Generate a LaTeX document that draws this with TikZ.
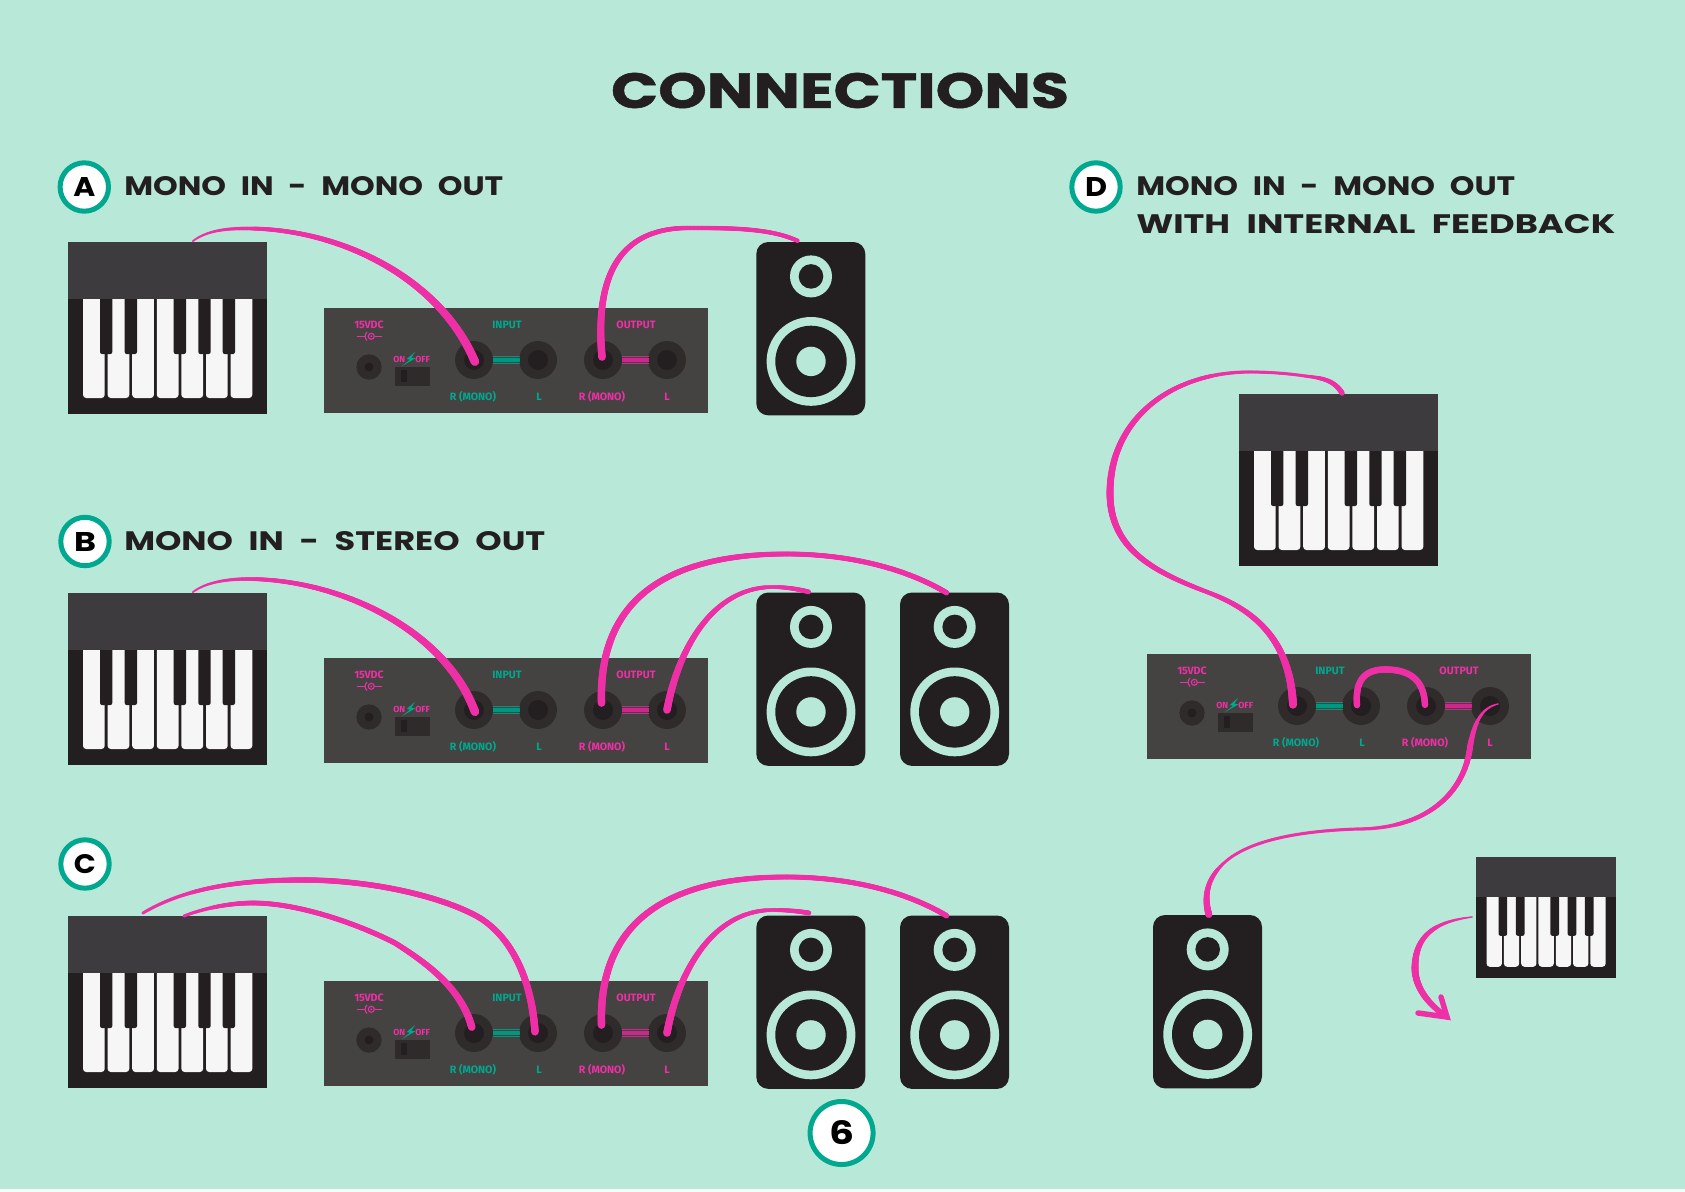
\documentclass[tikz,border=0pt]{standalone}
\usepackage{graphicx}
\usepackage{fontspec}
\setmainfont{Fira Sans}
\newfontfamily\headfont[FakeStretch=1.35,WordSpace=2.2]{Poppins}
\newfontfamily\titlefont[FakeStretch=1.35,BoldFeatures={FakeBold=1.2}]{Poppins}
\usetikzlibrary{decorations.markings}
\definecolor{bgc}{HTML}{B8E8D8}
\definecolor{panelc}{HTML}{454341}
\definecolor{jackout}{HTML}{2F2B2B}
\definecolor{darkc}{HTML}{231F20}
\definecolor{kbtop}{HTML}{3E3B3F}
\definecolor{keyc}{HTML}{F6F6F6}
\definecolor{cablec}{HTML}{EE2FA6}
\definecolor{tealc}{HTML}{00A88F}
\newcommand{\hdtxt}[3]{\resizebox{\dimexpr#1pt*3/4\relax}{\dimexpr#2pt*3/4\relax}{\headfont\bfseries #3}}
\tikzset{
  x=0.75pt,y=-0.75pt,
  taper/.style 2 args={decoration={markings,
    mark=between positions 0 and 1 step 0.6pt with {
      \pgfmathsetmacro\rr{(#1+(#2-#1)*\pgfkeysvalueof{/pgf/decoration/mark info/distance from start}/\pgfdecoratedpathlength)*0.41}
      \fill[cablec] (0,0) circle [radius=\rr pt];}},decorate},
  lblteal/.style={text=tealc,font=\bfseries\fontsize{8}{9}\selectfont,inner sep=0pt},
  lblpink/.style={text=cablec,font=\bfseries\fontsize{8}{9}\selectfont,inner sep=0pt},
  lblsmall/.style={text=cablec,font=\bfseries\fontsize{6.6}{7}\selectfont,inner sep=0pt},
  badge/.style={circle,draw=tealc,fill=white,line width=3.75pt,minimum size=36.3pt,inner sep=0pt},
  head/.style={anchor=west,inner sep=0pt,text=darkc},
  panel/.pic={
    \fill[panelc] (0,0) rectangle (384,105);
    \foreach \n/\x in {r/150,l/214,o/279,p/343}{
      \fill[jackout] (\x,52) circle (19);
      \fill[darkc] (\x,52) circle (10);
      \coordinate (-\n) at (\x,52);
    }
    \foreach \d in {-3.6,-1.2,1.2,3.6}{
      \draw[tealc!90!black,line width=1.1pt] (169,52+\d) -- (195.5,52+\d);
      \draw[cablec!85!black,line width=1.1pt] (298,52+\d) -- (324.5,52+\d);
    }
    \fill[jackout] (45,59) circle (12.7);
    \fill[darkc] (45,59) circle (4.5);
    \fill[jackout] (71,59) rectangle (106,78);
    \fill[darkc] (77,62) rectangle (83,74);
    \fill[tealc] (91,44) -- (82.7,51) -- (86,51.7) -- (78,58) -- (91.3,50.3) -- (87.3,49.7) -- cycle;
    \node[lblpink] (-v) at (45,17) {15VDC};
    \draw[cablec,line width=0.8pt] (33.3,28.3) -- (41,28.3);
    \draw[cablec,line width=0.8pt] (43,24) .. controls (40.5,26.5) and (40.5,30) .. (43,32.5);
    \draw[cablec,line width=0.8pt] (47.3,28.3) circle (3);
    \fill[cablec] (47.3,28.3) circle (1);
    \draw[cablec,line width=0.8pt] (50.5,28.3) -- (57.7,28.3);
    \node[lblsmall] (-on) at (75.3,51) {ON};
    \node[lblsmall] (-off) at (98.7,51) {OFF};
    \node[lblteal] (-in) at (183,17) {INPUT};
    \node[lblpink] (-out) at (312,17) {OUTPUT};
    \node[lblteal] (-a) at (149,88.5) {R (MONO)};
    \node[lblteal] (-b) at (215,88.5) {L};
    \node[lblpink] (-c) at (278,88.5) {R (MONO)};
    \node[lblpink] (-d) at (343,88.5) {L};
  },
  keyboard/.pic={
    \fill[darkc] (0,0) rectangle (199,172);
    \foreach \i in {0,...,6}{
      \fill[keyc,rounded corners=2.4pt] (15+24.6*\i,40) rectangle (36.7+24.6*\i,156);
    }
    \foreach \x in {32,56.7,105.7,130.3,154.7}{
      \fill[darkc,rounded corners=1.5pt] (\x,40) rectangle (\x+12.3,112);
    }
    \fill[kbtop] (0,0) rectangle (199,57);
  },
  speaker/.pic={
    \fill[darkc,rounded corners=9pt] (0,0) rectangle (109,173.4);
    \fill[bgc] (54.7,34.4) circle (21);
    \fill[darkc] (54.7,34.4) circle (12.3);
    \fill[bgc] (54.7,119.4) circle (44.4);
    \fill[darkc] (54.7,119.4) circle (35.7);
    \fill[bgc] (54.7,119.4) circle (14.7);
    \coordinate (-top) at (54.7,0);
  }
}
\begin{document}
\begin{tikzpicture}
\useasboundingbox (0,0) rectangle (1685,1192);
\fill[bgc] (0,0) rectangle (1685,1192);
\fill[white!85!bgc] (0,1189) rectangle (1685,1192);

\node[anchor=center,inner sep=0pt,text=darkc] (title) at (840,90.5) {\resizebox{343.5pt}{26.25pt}{\titlefont\bfseries CONNECTIONS}};

\node[badge] (ba) at (84.3,187) {\hdtxt{22}{19}{A}};
\node[head] (ha) at (124,186) {\hdtxt{379}{19}{MONO IN - MONO OUT}};
\node[badge] (bb) at (85,541.5) {\hdtxt{22}{19}{B}};
\node[head] (hb) at (124,541) {\hdtxt{421}{19}{MONO IN - STEREO OUT}};
\node[badge] (bc) at (85,864) {\hdtxt{22}{19}{C}};
\node[badge] (bd) at (1096,187) {\hdtxt{22}{19}{D}};
\node[head] (hd) at (1136,186) {\hdtxt{379}{19}{MONO IN - MONO OUT}};
\node[head] (he) at (1136,224.5) {\hdtxt{479}{19}{WITH INTERNAL FEEDBACK}};
\node[badge,minimum size=47.25pt] (bp) at (841.6,1133) {\hdtxt{25}{24}{6}};

% row A
\pic (kA) at (68,242) {keyboard};
\pic (pA) at (324,308) {panel};
\pic (sA) at (756.3,242) {speaker};
% row B
\pic (kB) at (68,593) {keyboard};
\pic (pB) at (324,658) {panel};
\pic (sB) at (756.3,592.5) {speaker};
\pic (sBb) at (900,592.5) {speaker};
% row C
\pic (kC) at (68,916) {keyboard};
\pic (pC) at (324,981) {panel};
\pic (sC) at (756.3,915.5) {speaker};
\pic (sCb) at (900,915.5) {speaker};
% D
\pic (kD) at (1239,394) {keyboard};
\pic (pD) at (1147,654) {panel};
\pic (sD) at (1153,915) {speaker};
\pic[scale=0.7035] (kS) at (1476,857) {keyboard};

\coordinate (kAo) at (193,241);
\coordinate (kBo) at (193,592);
\coordinate (kCa) at (143,913);
\coordinate (kCb) at (184,916);
\coordinate (kDo) at (1342,393);
\coordinate (sAi) at (798,241);
\coordinate (sBa) at (809,592);
\coordinate (sBc) at (947,593);
\coordinate (sCa) at (809,913);
\coordinate (sCc) at (947,916);
\coordinate (sDi) at (1209,915);
\coordinate (kSo) at (1472,917);
\coordinate (tip) at (1447,1017);

% A cables
\path[taper={2}{3.5}] (kAo) .. controls (205,232) and (222,228.5) .. (245,228.5);
\path[taper={3.5}{8}] (245,228.5) .. controls (340,228) and (440,278) .. ([shift={(1,2)}]pA-r);
\path[taper={7}{4}] ([shift={(-1,-3)}]pA-o) .. controls (596,290) and (610,228) .. (688,228);
\path[taper={4}{4}] (688,228) .. controls (730,228) and (770,228) .. (sAi);

% B cables
\path[taper={2}{3.5}] (kBo) .. controls (205,583) and (225,579) .. (247,579);
\path[taper={3.5}{8}] (247,579) .. controls (340,579) and (445,630) .. ([shift={(1,2)}]pB-r);
\path[taper={7}{4.5}] ([shift={(-1.5,-7)}]pB-o) .. controls (598,590) and (680,554) .. (787,554);
\path[taper={4.5}{5}] (787,554) .. controls (840,554) and (900,565) .. (sBc);
\path[taper={7}{3.5}] ([shift={(0,0)}]pB-p) .. controls (678,650) and (712,587) .. (773,587);
\path[taper={3.5}{4.5}] (773,587) .. controls (785,587) and (798,589) .. (sBa);

% C cables
\path[taper={3}{5}] (kCa) .. controls (190,885) and (250,880) .. (303,880);
\path[taper={5}{5.5}] (303,880) .. controls (380,880) and (450,900) .. (480,918);
\path[taper={5.5}{7}] (480,918) .. controls (515,940) and (532,985) .. ([shift={(-3,-1)}]pC-l);
\path[taper={3}{4.5}] (kCb) .. controls (205,908) and (230,903) .. (253,903);
\path[taper={4.5}{5}] (253,903) .. controls (300,903) and (360,925) .. (395,943);
\path[taper={5}{7}] (395,943) .. controls (430,965) and (462,990) .. ([shift={(-2,-5)}]pC-r);
\path[taper={7}{4.5}] ([shift={(-1.5,-8)}]pC-o) .. controls (598,913) and (680,877) .. (787,877);
\path[taper={4.5}{5}] (787,877) .. controls (840,877) and (900,888) .. (sCc);
\path[taper={7}{3.5}] ([shift={(0,0)}]pC-p) .. controls (678,973) and (712,910) .. (773,910);
\path[taper={3.5}{4.5}] (773,910) .. controls (785,910) and (798,911) .. (sCa);

% D cables
\path[taper={5}{3}] (kDo) .. controls (1334,380) and (1322,378) .. (1305,376);
\path[taper={3}{3}] (1305,376) .. controls (1285,373) and (1265,372) .. (1250,372);
\path[taper={3}{6.5}] (1250,372) .. controls (1170,372) and (1110,420) .. (1110,493);
\path[taper={6.5}{4}] (1110,493) .. controls (1110,550) and (1155,572) .. (1207,592);
\path[taper={4}{7.5}] (1207,592) .. controls (1255,610) and (1290,640) .. ([shift={(-4,-1)}]pD-r);
\path[taper={6}{6}] ([shift={(-4,-1)}]pD-l) .. controls (1355,680) and (1365,669.5) .. (1385,669.5);
\path[taper={6}{6}] (1385,669.5) .. controls (1410,669.5) and (1424,680) .. ([shift={(-1,-1)}]pD-o);
\path[taper={1.5}{5.5}] ([shift={(8,-2)}]pD-p) .. controls (1480,708) and (1474,725) .. (1470,747);
\path[taper={5.5}{3}] (1470,747) .. controls (1465,790) and (1430,829) .. (1357,829);
\path[taper={3}{3}] (1357,829) .. controls (1300,831) and (1250,840) .. (1225,862);
\path[taper={3}{6.5}] (1225,862) .. controls (1208,877) and (1203,895) .. (sDi);

% small arrow
\path[taper={1.5}{6.5}] (kSo) .. controls (1440,921) and (1415,932) .. (1415,968);
\path[taper={6.5}{5}] (1415,968) .. controls (1415,990) and (1432,1007) .. (tip);
\coordinate (arma) at (1418,1013);
\coordinate (armb) at (1441,997);
\draw[cablec,line width=4.1pt,line cap=round] (arma) -- (tip) -- (armb);
\end{tikzpicture}
\end{document}
